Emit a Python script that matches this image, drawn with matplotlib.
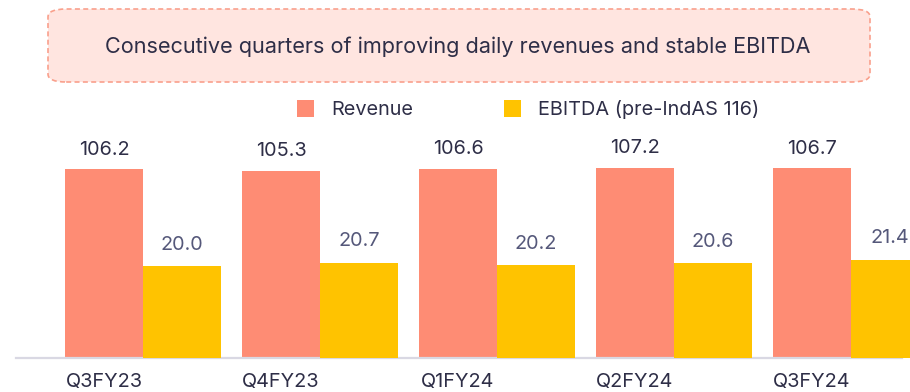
import matplotlib
matplotlib.use("Agg")
import matplotlib.pyplot as plt
from matplotlib.patches import FancyBboxPatch, Rectangle
import numpy as np

quarters = ["Q3FY23", "Q4FY23", "Q1FY24", "Q2FY24", "Q3FY24"]
revenue = [106.2, 105.3, 106.6, 107.2, 106.7]
ebitda = [20.0, 20.7, 20.2, 20.6, 21.4]

title_text = "Consecutive quarters of improving daily revenues and stable EBITDA"
legend_labels = ["Revenue", "EBITDA (pre-IndAS 116)"]

REV_COLOR = "#FE8C74"
EBITDA_COLOR = "#FFC300"
DARK = "#2E2E47"
MUTED = "#55587A"
FS = 14.3

plt.rcParams["font.family"] = ["Inter", "DejaVu Sans"]

W, H = 910, 392
fig = plt.figure(figsize=(W / 100, H / 100), dpi=100)

# Headline box
box = FancyBboxPatch((48 / W, 1 - 82 / H), 822 / W, 73 / H,
                     boxstyle="round,pad=0,rounding_size=0.02",
                     transform=fig.transFigure, facecolor="#FFE5E0",
                     edgecolor="#F9A08C", linestyle=(0, (3, 2)), linewidth=1.2)
fig.patches.append(box)
fig.text(458 / W, 1 - 46.5 / H, title_text, ha="center", va="center",
         fontsize=15.6, color=DARK)

# Bar area
bottom_px, top_px = 358, 100
ax = fig.add_axes([16 / W, 1 - bottom_px / H, 886 / W, (bottom_px - top_px) / H])
ax2 = ax.twinx()

x = np.arange(len(quarters))
w = 0.44
off = 0.22
height_px = bottom_px - top_px
ax.set_ylim(0, height_px / 1.777)
ax2.set_ylim(0, height_px / 4.59)
ax.set_xlim(-0.717, 4.288)

ax.bar(x - off, revenue, width=w, color=REV_COLOR, clip_on=False, zorder=2)
ax2.bar(x + off, ebitda, width=w, color=EBITDA_COLOR, clip_on=False, zorder=2)

for xi, v in zip(x - off, revenue):
    ax.annotate(f"{v:.1f}", (xi, v), xytext=(0, 14), textcoords="offset points",
                ha="center", va="center", fontsize=FS, color=DARK)
for xi, v in zip(x + off, ebitda):
    ax2.annotate(f"{v:.1f}", (xi, v), xytext=(0, 15.5), textcoords="offset points",
                 ha="center", va="center", fontsize=FS, color=MUTED)

ax.set_xticks(x - off)
ax.set_xticklabels(quarters, fontsize=FS, color=DARK)
ax.tick_params(axis="x", length=0, pad=11)
ax.set_yticks([])
ax2.set_yticks([])
for a in (ax, ax2):
    for s in ("top", "right", "left"):
        a.spines[s].set_visible(False)
    a.patch.set_visible(False)
ax2.spines["bottom"].set_visible(False)
ax.spines["bottom"].set_color("#D9D8E3")
ax.spines["bottom"].set_linewidth(1.6)
ax.spines["bottom"].set_zorder(5)

# Legend
fig.patches.append(Rectangle((297 / W, 1 - 117 / H), 17 / W, 17 / H,
                             transform=fig.transFigure, facecolor=REV_COLOR, edgecolor="none"))
fig.text(331 / W, 1 - 110 / H, legend_labels[0], ha="left", va="center",
         fontsize=FS, color=DARK)
fig.patches.append(Rectangle((504 / W, 1 - 117 / H), 17 / W, 17 / H,
                             transform=fig.transFigure, facecolor=EBITDA_COLOR, edgecolor="none"))
fig.text(538 / W, 1 - 110 / H, legend_labels[1], ha="left", va="center",
         fontsize=FS, color=DARK)

fig.savefig("out.png", dpi=100)
